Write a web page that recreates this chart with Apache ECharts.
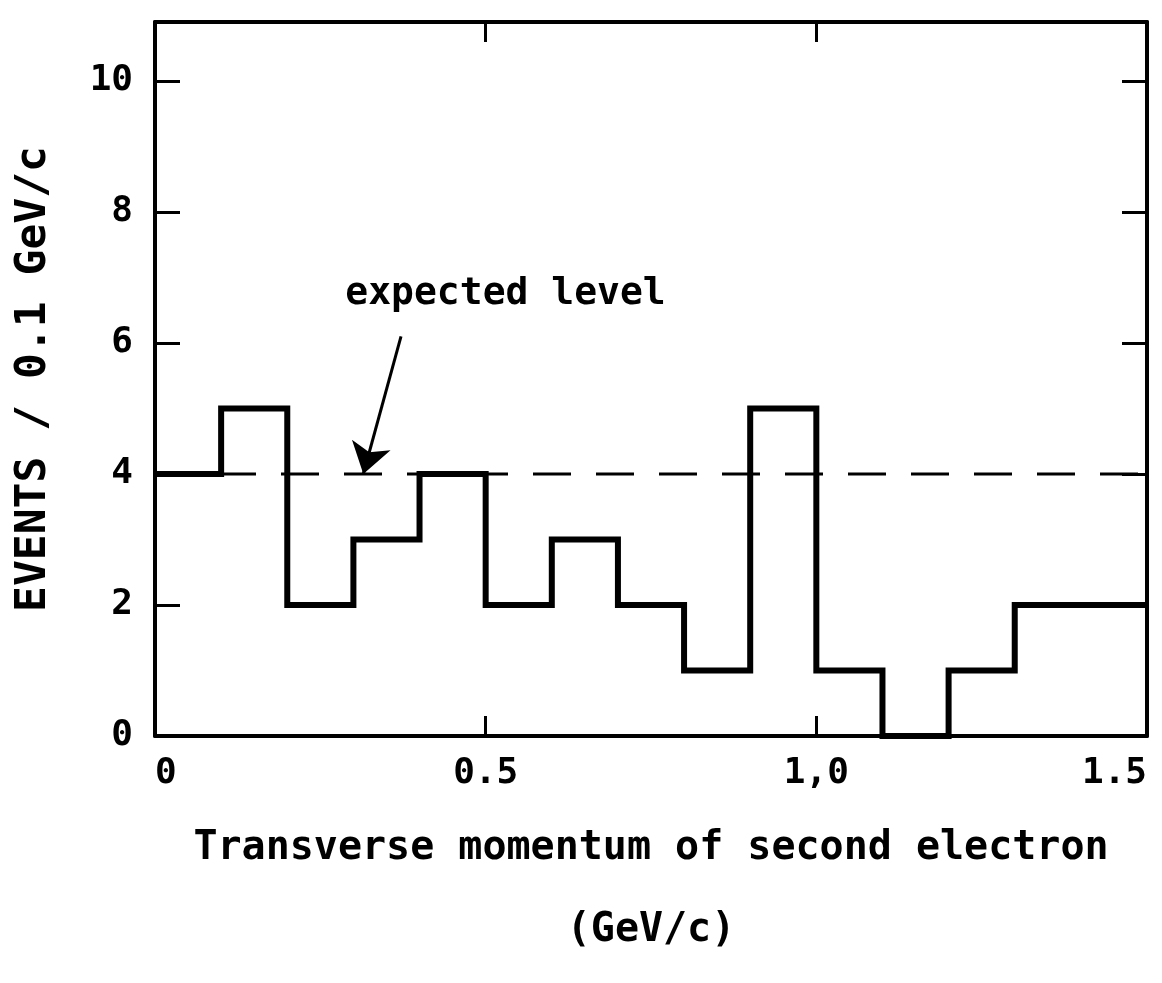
<!DOCTYPE html>
<html>
<head>
<meta charset="utf-8">
<script src="https://cdn.jsdelivr.net/npm/echarts@6/dist/echarts.min.js"></script>
<style>
  html, body { margin: 0; padding: 0; background: #fff; }
  #chart { width: 1162px; height: 983px; }
</style>
</head>
<body>
<div id="chart"></div>
<script>
// ---- data ----
const binEdges = [0, 0.1, 0.2, 0.3, 0.4, 0.5, 0.6, 0.7, 0.8, 0.9, 1.0, 1.1, 1.2, 1.3, 1.4, 1.5];
const counts   = [4, 5, 2, 3, 4, 2, 3, 2, 1, 5, 1, 0, 1, 2, 2];
const expectedLevel = 4;
const xTickValues = [0, 0.5, 1.0, 1.5];
const xTickLabels = ['0', '0.5', '1,0', '1.5'];
const yTickValues = [0, 2, 4, 6, 8, 10];
const annotationText = 'expected level';
const annotationAt = [0.53, 6.75];
const arrowFrom = [0.372, 6.1];
const arrowTo = [0.315, 4.0];
const xTitle = 'Transverse momentum of second electron';
const xUnit = '(GeV/c)';
const yTitle = 'EVENTS / 0.1 GeV/c';

// ---- build step outline ----
const steps = [];
for (let i = 0; i < counts.length; i++) {
  steps.push([binEdges[i], counts[i]]);
  steps.push([binEdges[i + 1], counts[i]]);
}
const expectedLine = [[binEdges[0], expectedLevel], [binEdges[binEdges.length - 1], expectedLevel]];

const FONT = 'DejaVu Sans Mono';
const WEIGHT = 'bold';
const chart = echarts.init(document.getElementById('chart'), null, { renderer: 'canvas' });

const axisLine = { show: true, onZero: false, lineStyle: { color: '#000', width: 4 } };
chart.setOption({
  animation: false,
  backgroundColor: '#fff',
  grid: { left: 155, right: 15, top: 22, bottom: 247, containLabel: false },
  xAxis: [
    {
      type: 'value', min: 0, max: 1.5, interval: 0.5, position: 'bottom',
      axisLine: axisLine,
      axisTick: { show: true, inside: true, length: 20, lineStyle: { color: '#000', width: 3 } },
      splitLine: { show: false },
      axisLabel: {
        color: '#000', fontFamily: FONT, fontWeight: WEIGHT, fontSize: 36, margin: 20,
        showMinLabel: true, showMaxLabel: true,
        alignMinLabel: 'left', alignMaxLabel: 'right',
        formatter: function (v) {
          const i = xTickValues.findIndex(t => Math.abs(t - v) < 1e-6);
          return i >= 0 ? xTickLabels[i] : '';
        }
      },
      name: '{a|' + xTitle + '}\n{a|' + xUnit + '}',
      nameLocation: 'middle', nameGap: 72,
      nameTextStyle: {
        rich: { a: { fontFamily: FONT, fontWeight: WEIGHT, fontSize: 40, color: '#000', lineHeight: 82, align: 'center' } }
      }
    },
    {
      type: 'value', min: 0, max: 1.5, interval: 0.5, position: 'top',
      axisLine: axisLine,
      axisTick: { show: true, inside: true, length: 20, lineStyle: { color: '#000', width: 3 } },
      splitLine: { show: false },
      axisLabel: { show: false }
    }
  ],
  yAxis: [
    {
      type: 'value', min: 0, max: 10.9, interval: 2, position: 'left',
      axisLine: axisLine,
      axisTick: { show: true, inside: true, length: 25, lineStyle: { color: '#000', width: 3 } },
      splitLine: { show: false },
      axisLabel: {
        color: '#000', fontFamily: FONT, fontWeight: WEIGHT, fontSize: 36, margin: 22, showMaxLabel: false,
        formatter: function (v) { return yTickValues.indexOf(v) >= 0 ? String(v) : ''; }
      },
      name: yTitle, nameLocation: 'middle', nameGap: 100, nameRotate: 90,
      nameTextStyle: { fontFamily: FONT, fontWeight: WEIGHT, fontSize: 43, color: '#000' }
    },
    {
      type: 'value', min: 0, max: 10.9, interval: 2, position: 'right',
      axisLine: axisLine,
      axisTick: { show: true, inside: true, length: 25, lineStyle: { color: '#000', width: 3 } },
      splitLine: { show: false },
      axisLabel: { show: false }
    }
  ],
  series: [
    {
      type: 'line', name: 'expected', data: expectedLine, xAxisIndex: 0, yAxisIndex: 0,
      showSymbol: false, symbol: 'none', z: 2,
      lineStyle: { color: '#000', width: 3, type: [38, 25], dashOffset: 0 },
      silent: true
    },
    {
      type: 'line', name: 'events', data: steps, xAxisIndex: 0, yAxisIndex: 0,
      showSymbol: false, symbol: 'none', z: 3,
      lineStyle: { color: '#000', width: 6, join: 'miter' },
      silent: true
    },
    {
      type: 'scatter', name: 'annotation', data: [annotationAt], symbolSize: 1,
      silent: true, z: 4,
      itemStyle: { color: 'rgba(0,0,0,0)', opacity: 1 },
      label: {
        show: true, position: 'inside', formatter: annotationText,
        fontFamily: FONT, fontWeight: WEIGHT, fontSize: 38, color: '#000', opacity: 1
      },
      markLine: {
        silent: true, symbol: ['none', 'arrow'], symbolSize: 30,
        label: { show: false },
        lineStyle: { color: '#000', width: 3, type: 'solid', opacity: 1 },
        itemStyle: { color: '#000', opacity: 1 },
        data: [[{ coord: arrowFrom }, { coord: arrowTo }]]
      }
    }
  ]
});
</script>
</body>
</html>
